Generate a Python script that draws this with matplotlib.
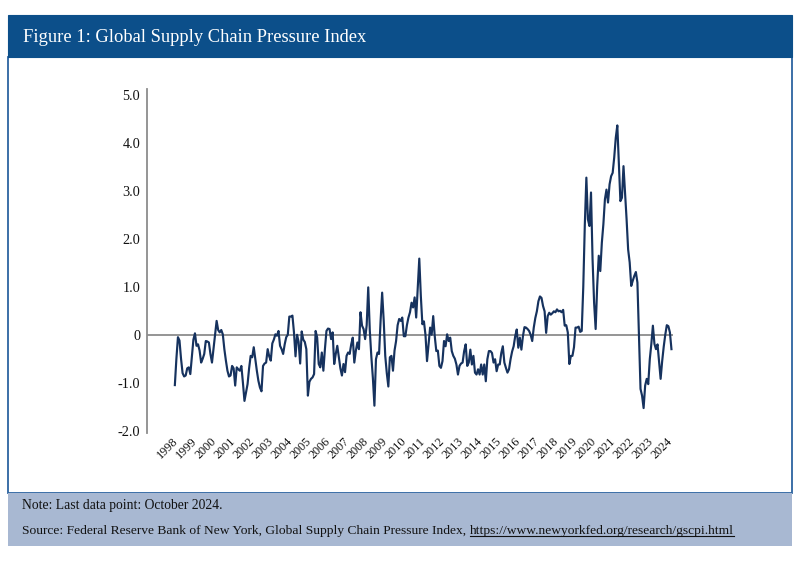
import matplotlib
matplotlib.use("Agg")
import matplotlib.pyplot as plt
from matplotlib.patches import Rectangle
from matplotlib.lines import Line2D
import numpy as np

plt.rcParams['font.family'] = ['Liberation Serif', 'DejaVu Serif']

# ---------------- data (monthly GSCPI, Jan 1998 - Oct 2024) ----------------
v1998_2003 = [
    -1.05, -0.5, -0.05, -0.12, -0.5, -0.8, -0.87, -0.85, -0.7, -0.68, -0.82, -0.45,
    -0.1, 0.03, -0.23, -0.2, -0.33, -0.58, -0.5, -0.4, -0.13, -0.14, -0.16, -0.4,
    -0.58, -0.3, 0.0, 0.29, 0.1, 0.05, 0.1, 0.01, -0.3, -0.54, -0.75, -0.87,
    -0.85, -0.65, -0.7, -1.06, -0.68, -0.72, -0.75, -0.65, -1.0, -1.38, -1.2, -1.03,
    -0.7, -0.44, -0.47, -0.26, -0.51, -0.75, -0.96, -1.1, -1.18, -0.65, -0.6, -0.58,
    -0.3, -0.45, -0.54, -0.18, -0.1, 0.01, -0.02, 0.08, -0.23, -0.3, -0.4, -0.2,
]
v2004_2010 = [
    -0.05, 0.0, 0.38, 0.38, 0.4, 0.05, -0.45, 0.0, -0.15, -0.6, 0.07, -0.1,
    -0.15, -0.3, -1.27, -0.98, -0.92, -0.89, -0.82, 0.08, -0.06, -0.61, -0.68, -0.37,
    -0.75, -0.3, 0.08, 0.13, 0.12, -0.09, 0.05, -0.61, -0.4, -0.23, -0.47, -0.7,
    -0.85, -0.61, -0.78, -0.44, -0.37, -0.4, -0.2, -0.06, -0.58, -0.33, -0.16, -0.3,
    0.47, 0.19, 0.12, -0.09, 0.2, 0.99, 0.1, -0.45, -0.9, -1.48, -0.51, -0.37,
    -0.4, 0.3, 0.88, 0.3, -0.44, -0.8, -1.08, -0.47, -0.44, -0.75, -0.33, -0.13,
    0.2, 0.33, 0.29, 0.36, -0.03, -0.03, 0.2, 0.36, 0.47, 0.67, 0.57, 0.78,
]
v2011_2017 = [
    0.36, 0.99, 1.59, 0.81, 0.22, 0.28, 0.0, -0.55, -0.2, 0.15, 0.0, 0.39,
    -0.03, -0.34, -0.33, -0.65, -0.69, -0.55, -0.13, -0.24, 0.01, -0.13, -0.06, -0.34,
    -0.44, -0.5, -0.62, -0.83, -0.65, -0.6, -0.58, -0.34, -0.2, -0.65, -0.58, -0.31,
    -0.62, -0.44, -0.79, -0.83, -0.72, -0.83, -0.62, -0.83, -0.62, -0.97, -0.51, -0.34,
    -0.34, -0.38, -0.58, -0.51, -0.76, -0.62, -0.62, -0.38, -0.24, -0.58, -0.69, -0.79,
    -0.72, -0.51, -0.35, -0.24, -0.03, 0.11, -0.27, -0.06, -0.31, -0.03, 0.16, 0.15,
    0.12, 0.08, 0.0, -0.13, 0.15, 0.35, 0.49, 0.7, 0.8, 0.77, 0.6, 0.49,
]
v2018_2024 = [
    0.04, 0.39, 0.46, 0.42, 0.45, 0.49, 0.47, 0.53, 0.49, 0.5, 0.47, 0.52,
    0.19, 0.2, 0.05, -0.61, -0.44, -0.44, -0.26, 0.15, 0.15, 0.17, 0.06, 0.08,
    1.0, 2.3, 3.28, 2.41, 2.27, 2.97, 1.58, 0.67, 0.12, 1.02, 1.65, 1.33,
    1.92, 2.31, 2.83, 3.03, 2.76, 3.14, 3.31, 3.38, 3.7, 4.11, 4.37, 3.6,
    2.79, 2.86, 3.52, 2.97, 2.41, 1.78, 1.51, 1.02, 1.13, 1.23, 1.31, 1.09,
    0.0, -1.13, -1.27, -1.53, -1.06, -0.92, -1.03, -0.51, -0.19, 0.19, -0.19, -0.3,
    -0.2, -0.55, -0.92, -0.55, -0.25, 0.0, 0.2, 0.18, 0.05, -0.3,
]
gscpi = v1998_2003 + v2004_2010 + v2011_2017 + v2018_2024

year_labels = [str(y) for y in range(1998, 2025)]
y_ticks = [5.0, 4.0, 3.0, 2.0, 1.0, 0.0, -1.0, -2.0]
y_tick_labels = ["5.0", "4.0", "3.0", "2.0", "1.0", "0", "-1.0", "-2.0"]

title = "Figure 1: Global Supply Chain Pressure Index"
note = "Note: Last data point: October 2024."
source_prefix = "Source: Federal Reserve Bank of New York, Global Supply Chain Pressure Index, "
source_url = "https://www.newyorkfed.org/research/gscpi.html"

# ---------------- styling ----------------
HEADER = "#0c4f8a"
BORDER = "#2c63a0"
FOOTER = "#a8b8d2"
LINE = "#16325e"
AXIS = "#8c8c8c"

W, H = 800, 561
fig = plt.figure(figsize=(8, 5.61), dpi=100)
fig.patch.set_facecolor("white")


def fx(x):
    return x / W


def fy(y):
    return 1 - y / H


# chart box
fig.add_artist(Rectangle((fx(8), fy(493)), fx(784), (493 - 57) / H,
                         transform=fig.transFigure, facecolor="white",
                         edgecolor=BORDER, lw=1.3, zorder=0))
# header
fig.add_artist(Rectangle((fx(8), fy(57)), fx(784), 42 / H,
                         transform=fig.transFigure, facecolor=HEADER,
                         edgecolor=HEADER, lw=0.8, zorder=1))
# footer
fig.add_artist(Rectangle((fx(8), fy(546)), fx(784), (546 - 493) / H,
                         transform=fig.transFigure, facecolor=FOOTER,
                         edgecolor="none", zorder=1))

fig.text(fx(23), fy(37), title, color="white", fontsize=13.3,
         va="center", ha="left", zorder=3)
fig.text(fx(22), fy(506), note, color="#111111", fontsize=9.8,
         va="center", ha="left", zorder=3)
t_src = fig.text(fx(22), fy(531), source_prefix, color="#111111", fontsize=9.7,
                 va="center", ha="left", zorder=3)

# ---------------- axes ----------------
ax = fig.add_axes([fx(147), fy(433), fx(673 - 147), (433 - 89) / H])
ax.set_facecolor("none")
x = np.arange(len(gscpi))
ax.axhline(0, color=AXIS, lw=1.3, zorder=1)
ax.plot(x, gscpi, color=LINE, lw=1.55, solid_joinstyle="round", zorder=3)
ax.set_xlim(-18, 322)
ax.set_ylim(-2.05, 5.13)
for s in ["top", "right", "bottom"]:
    ax.spines[s].set_visible(False)
ax.spines["left"].set_color(AXIS)
ax.spines["left"].set_linewidth(1.3)

ax.set_yticks(y_ticks)
ax.set_yticklabels(y_tick_labels, fontsize=10.3, color="#111111")
ax.tick_params(axis="y", length=0, pad=5)

tick_pos = np.linspace(-1.6, 317.7, len(year_labels))
ax.set_xticks(tick_pos)
ax.set_xticklabels(year_labels, fontsize=8.8, color="#111111",
                   rotation=45, ha="right", va="top", rotation_mode="anchor")
ax.tick_params(axis="x", length=0, pad=1.5)

# source URL with underline
fig.canvas.draw()
r = fig.canvas.get_renderer()
bb = t_src.get_window_extent(renderer=r)
t_url = fig.text(bb.x1 / fig.bbox.width, fy(531), source_url, color="#111111",
                 fontsize=9.7, va="center", ha="left", zorder=3)
fig.canvas.draw()
bu = t_url.get_window_extent(renderer=r)
uy = (bu.y0 + 1.5) / fig.bbox.height
fig.add_artist(Line2D([bu.x0 / fig.bbox.width, bu.x1 / fig.bbox.width], [uy, uy],
                      transform=fig.transFigure, color="#111111", lw=0.8, zorder=3))

fig.savefig("out.png", dpi=100, facecolor="white")
